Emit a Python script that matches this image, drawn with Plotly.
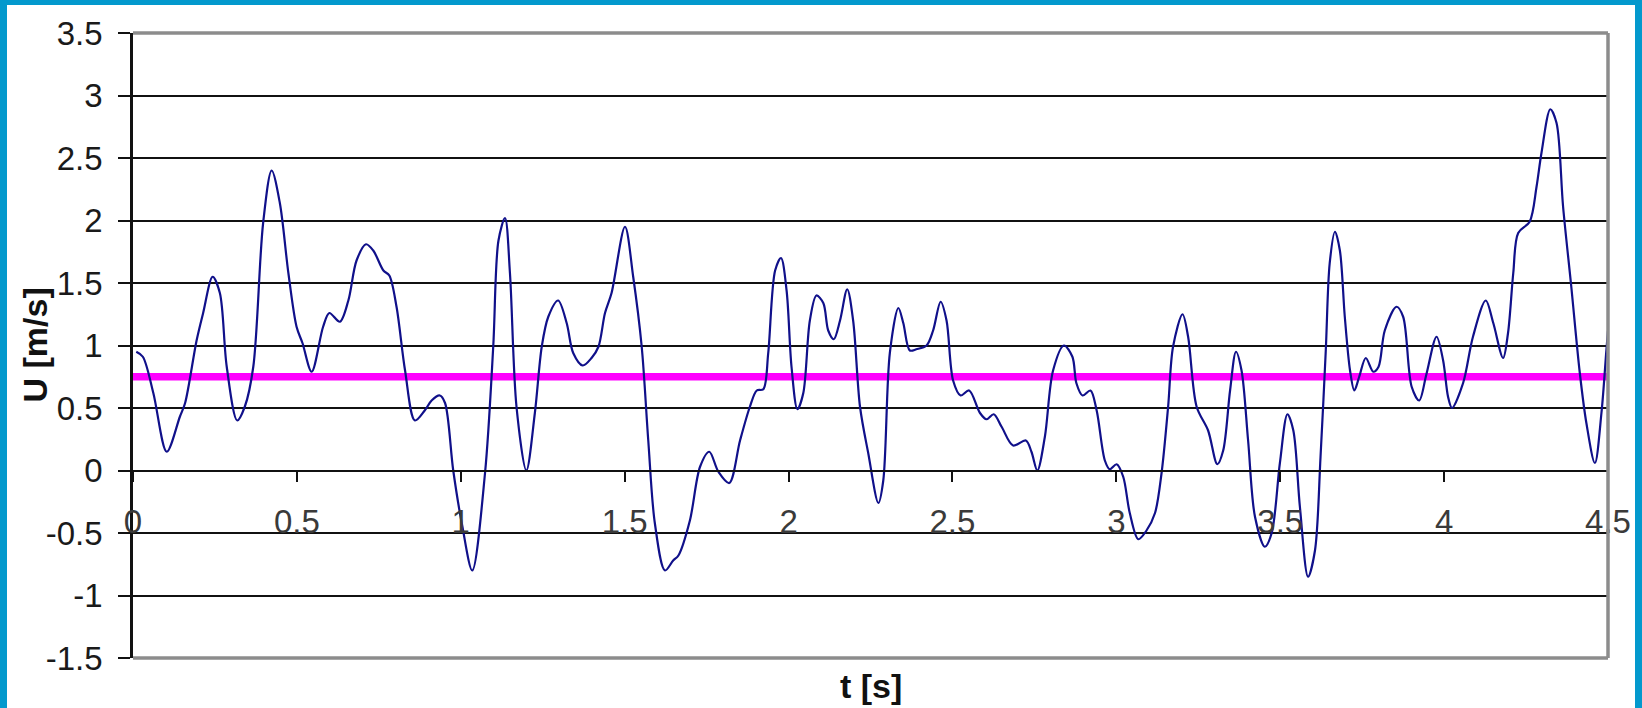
import plotly.graph_objects as go

# Velocity record U(t) and its mean
t_s = [0.01, 0.03, 0.062, 0.103, 0.143, 0.159, 0.194, 0.214, 0.243, 0.265,
       0.286, 0.318, 0.341, 0.367, 0.397, 0.423, 0.448, 0.474, 0.499, 0.517,
       0.545, 0.580, 0.599, 0.631, 0.657, 0.682, 0.711, 0.733, 0.764, 0.782,
       0.804, 0.830, 0.860, 0.890, 0.911, 0.936, 0.952, 0.977, 1.005, 1.035,
       1.074, 1.099, 1.115, 1.135, 1.150, 1.170, 1.200, 1.226, 1.247, 1.267,
       1.297, 1.323, 1.343, 1.372, 1.399, 1.420, 1.440, 1.460, 1.501, 1.526,
       1.552, 1.572, 1.592, 1.623, 1.648, 1.664, 1.699, 1.730, 1.758, 1.786,
       1.819, 1.852, 1.882, 1.903, 1.923, 1.938, 1.959, 1.977, 1.994, 2.009,
       2.027, 2.045, 2.065, 2.085, 2.106, 2.121, 2.138, 2.157, 2.179, 2.197,
       2.218, 2.243, 2.274, 2.289, 2.309, 2.335, 2.350, 2.370, 2.390, 2.421,
       2.441, 2.464, 2.482, 2.502, 2.525, 2.551, 2.584, 2.604, 2.626, 2.650,
       2.685, 2.724, 2.741, 2.759, 2.782, 2.807, 2.840, 2.866, 2.878, 2.897,
       2.921, 2.940, 2.965, 2.980, 3.001, 3.021, 3.041, 3.067, 3.092, 3.118,
       3.138, 3.158, 3.173, 3.202, 3.219, 3.245, 3.280, 3.308, 3.326, 3.347,
       3.365, 3.382, 3.402, 3.423, 3.453, 3.474, 3.499, 3.522, 3.540, 3.560,
       3.585, 3.606, 3.623, 3.639, 3.651, 3.667, 3.682, 3.697, 3.713, 3.726,
       3.741, 3.761, 3.784, 3.800, 3.819, 3.855, 3.875, 3.901, 3.924, 3.946,
       3.977, 3.997, 4.012, 4.024, 4.058, 4.088, 4.127, 4.150, 4.180, 4.195,
       4.211, 4.226, 4.261, 4.282, 4.297, 4.324, 4.343, 4.363, 4.388, 4.414,
       4.434, 4.460, 4.480, 4.495, 4.500]
u_ms = [0.95, 0.91, 0.62, 0.15, 0.43, 0.54, 1.04, 1.26, 1.55, 1.42,
        0.83, 0.40, 0.51, 0.83, 1.98, 2.40, 2.14, 1.58, 1.15, 1.02,
        0.79, 1.15, 1.26, 1.19, 1.36, 1.68, 1.81, 1.76, 1.60, 1.56,
        1.31, 0.80, 0.40, 0.48, 0.56, 0.60, 0.54, 0.00, -0.45, -0.80,
        -0.02, 0.99, 1.84, 2.02, 1.58, 0.51, 0.00, 0.46, 0.99, 1.23,
        1.36, 1.18, 0.94, 0.84, 0.90, 0.99, 1.26, 1.42, 1.95, 1.55,
        0.99, 0.24, -0.42, -0.80, -0.72, -0.68, -0.40, 0.03, 0.15, -0.01,
        -0.10, 0.24, 0.51, 0.64, 0.65, 0.94, 1.60, 1.70, 1.44, 0.83,
        0.49, 0.62, 1.20, 1.40, 1.34, 1.12, 1.05, 1.20, 1.45, 1.20,
        0.51, 0.14, -0.26, -0.08, 0.94, 1.30, 1.18, 0.96, 0.97, 1.00,
        1.12, 1.35, 1.20, 0.72, 0.60, 0.64, 0.46, 0.41, 0.45, 0.35,
        0.20, 0.24, 0.15, 0.00, 0.27, 0.80, 1.00, 0.91, 0.70, 0.60,
        0.64, 0.48, 0.08, 0.01, 0.05, -0.05, -0.34, -0.55, -0.48, -0.34,
        -0.02, 0.51, 0.99, 1.25, 1.07, 0.51, 0.32, 0.05, 0.16, 0.64,
        0.95, 0.80, 0.24, -0.37, -0.61, -0.50, 0.06, 0.45, 0.32, -0.29,
        -0.85, -0.64, 0.11, 0.96, 1.66, 1.91, 1.76, 1.23, 0.80, 0.64,
        0.75, 0.90, 0.79, 0.83, 1.12, 1.31, 1.23, 0.67, 0.56, 0.77,
        1.07, 0.88, 0.59, 0.50, 0.70, 1.07, 1.36, 1.18, 0.90, 1.10,
        1.58, 1.90, 1.99, 2.27, 2.54, 2.89, 2.78, 2.11, 1.47, 0.78,
        0.38, 0.06, 0.46, 0.96, 1.12]
mean_t = [0.0, 4.5]
mean_u = [0.75, 0.75]

x_range = [0, 4.5]
y_range = [-1.5, 3.5]
x_tickvals = [0, 0.5, 1, 1.5, 2, 2.5, 3, 3.5, 4, 4.5]
x_ticktext = ["0", "0.5", "1", "1.5", "2", "2.5", "3", "3.5", "4", "4.5"]
y_tickvals = [-1.5, -1, -0.5, 0, 0.5, 1, 1.5, 2, 2.5, 3, 3.5]
y_ticktext = ["-1.5", "-1", "-0.5", "0", "0.5", "1", "1.5", "2", "2.5", "3", "3.5"]

W, H = 1642, 708
M_L, M_R, M_T, M_B = 133, 34, 33, 50
PW, PH = W - M_L - M_R, H - M_T - M_B


def px_x(px):
    return (px - M_L) / PW


def px_y(py):
    return (H - M_B - py) / PH


FONT = "Arial, 'Liberation Sans', sans-serif"
FRAME_BLUE = "#0399cd"
FRAME_GRAY = "#8c8c8c"

fig = go.Figure()
fig.add_trace(go.Scatter(x=mean_t, y=mean_u, mode="lines",
                         line=dict(color="#ff00ff", width=7.5),
                         hoverinfo="skip", showlegend=False))
fig.add_trace(go.Scatter(x=t_s, y=u_ms, mode="lines",
                         line=dict(color="#10108a", width=2.2, shape="spline",
                                   smoothing=0.9),
                         showlegend=False))

shapes = [
    # plot frame: top, right, bottom
    dict(type="line", xref="paper", yref="paper", x0=0, x1=1, y0=1, y1=1,
         line=dict(color=FRAME_GRAY, width=3.5), layer="above"),
    dict(type="line", xref="paper", yref="paper", x0=1, x1=1, y0=0, y1=1,
         line=dict(color=FRAME_GRAY, width=3.5), layer="above"),
    dict(type="line", xref="paper", yref="paper", x0=0, x1=1, y0=0, y1=0,
         line=dict(color=FRAME_GRAY, width=3.5), layer="above"),
    # blue page border on left, top and right
    dict(type="rect", xref="paper", yref="paper",
         x0=px_x(0), x1=px_x(7), y0=px_y(H), y1=px_y(0),
         fillcolor=FRAME_BLUE, line=dict(width=0)),
    dict(type="rect", xref="paper", yref="paper",
         x0=px_x(0), x1=px_x(W), y0=px_y(5), y1=px_y(0),
         fillcolor=FRAME_BLUE, line=dict(width=0)),
    dict(type="rect", xref="paper", yref="paper",
         x0=px_x(W - 7), x1=px_x(W), y0=px_y(H), y1=px_y(0),
         fillcolor=FRAME_BLUE, line=dict(width=0)),
]

annotations = [
    dict(text="<b>U [m/s]</b>", xref="paper", yref="paper",
         x=px_x(34), y=0.5, textangle=-90, showarrow=False,
         xanchor="center", yanchor="middle",
         font=dict(family=FONT, size=34, color="#111111")),
    dict(text="<b>t [s]</b>", xref="paper", yref="paper",
         x=0.5, y=px_y(686), showarrow=False,
         xanchor="center", yanchor="middle",
         font=dict(family=FONT, size=34, color="#111111")),
]

fig.update_layout(
    width=W, height=H,
    margin=dict(l=M_L, r=M_R, t=M_T, b=M_B, pad=0),
    paper_bgcolor="white", plot_bgcolor="white",
    showlegend=False,
    shapes=shapes,
    annotations=annotations,
    xaxis=dict(range=x_range, tickmode="array",
               tickvals=x_tickvals, ticktext=x_ticktext,
               anchor="free", position=(0 - y_range[0]) / (y_range[1] - y_range[0]),
               showgrid=False, zeroline=False,
               showline=True, linecolor="#111111", linewidth=2,
               ticks="outside", ticklen=10, tickwidth=2, tickcolor="#111111",
               ticklabelstandoff=12,
               tickfont=dict(family=FONT, size=33, color="#3a3a3a")),
    yaxis=dict(range=y_range, tickmode="array",
               tickvals=y_tickvals, ticktext=y_ticktext,
               showgrid=True, gridcolor="#111111", gridwidth=2,
               zeroline=False,
               showline=True, linecolor="#111111", linewidth=2.5,
               ticks="outside", ticklen=12, tickwidth=2, tickcolor="#111111",
               ticklabelstandoff=9,
               tickfont=dict(family=FONT, size=33, color="#1a1a1a")),
)

fig.write_html("out.html")
